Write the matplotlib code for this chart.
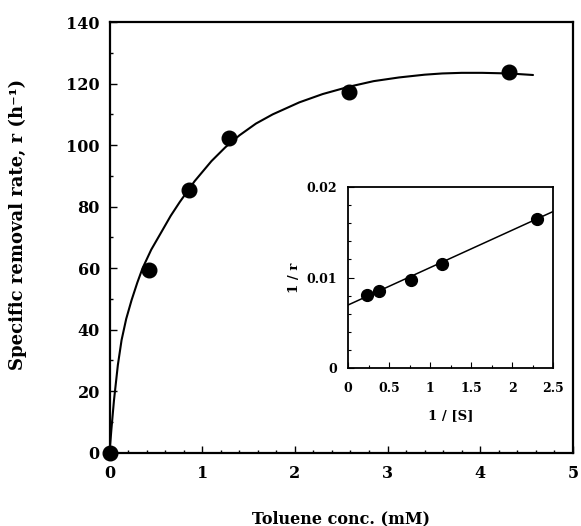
import matplotlib
matplotlib.use("Agg")
import matplotlib.pyplot as plt
from matplotlib.ticker import MultipleLocator

plt.rcParams['font.family'] = ['DejaVu Serif']
plt.rcParams['font.weight'] = 'bold'

# Main data (Toluene conc. vs specific removal rate)
conc = [0.0, 0.425, 0.855, 1.29, 2.586, 4.31]
rate = [0.0, 59.4, 85.3, 102.4, 117.4, 123.8]

# Fitted curve
curve_x = [0.0, 0.02, 0.048, 0.09, 0.13, 0.18, 0.238, 0.30, 0.357, 0.45, 0.561, 0.66, 0.758,
           0.919, 1.10, 1.25, 1.403, 1.58, 1.761, 2.048, 2.30, 2.586, 2.85, 3.124, 3.40,
           3.59, 3.80, 4.02, 4.31, 4.57]
curve_y = [0.0, 7.5, 17.0, 28.5, 36.6, 43.5, 49.6, 55.3, 60.0, 66.0, 71.8, 77.0, 81.5,
           88.3, 94.8, 99.3, 103.2, 107.0, 110.0, 113.9, 116.6, 119.0, 120.8, 122.0, 122.9,
           123.3, 123.5, 123.5, 123.3, 122.8]

# Inset: Lineweaver-Burk plot
inv_s = [0.228, 0.378, 0.764, 1.146, 2.305]
inv_r = [0.00804, 0.00848, 0.00972, 0.01152, 0.01648]
lb_line_x = [0.0, 2.5]
lb_line_y = [0.00697, 0.01727]

main_xticks = [0, 1, 2, 3, 4, 5]
main_yticks = [0, 20, 40, 60, 80, 100, 120, 140]
inset_xticks = [0, 0.5, 1, 1.5, 2, 2.5]
inset_xticklabels = ['0', '0.5', '1', '1.5', '2', '2.5']
inset_yticks = [0, 0.01, 0.02]
inset_yticklabels = ['0', '0.01', '0.02']

fig = plt.figure(figsize=(5.81, 5.26), dpi=100)
ax = fig.add_axes([0.1885, 0.1394, 0.7975, 0.8186])

ax.plot(curve_x, curve_y, color='black', lw=1.5, solid_capstyle='round', solid_joinstyle='round')
ax.plot(conc, rate, 'o', color='black', ms=10.5, clip_on=False, zorder=5)

ax.set_xlim(0, 5)
ax.set_ylim(0, 140)
ax.set_xticks(main_xticks)
ax.set_yticks(main_yticks)
ax.xaxis.set_minor_locator(MultipleLocator(0.2))
ax.yaxis.set_minor_locator(MultipleLocator(10))
ax.tick_params(which='both', direction='in', top=False, right=False, labelsize=11.5, width=1.0)
ax.tick_params(which='major', length=5)
ax.tick_params(axis='x', which='major', pad=9)
ax.tick_params(axis='y', which='major', pad=7)
ax.tick_params(which='minor', length=2.5)
for s in ax.spines.values():
    s.set_linewidth(1.6)

ax.set_xlabel('Toluene conc. (mM)', fontsize=11.5, fontweight='bold')
ax.xaxis.set_label_coords(0.5, -0.133)
ax.set_ylabel('Specific removal rate, r (h\u207b\u00b9)', fontsize=13, fontweight='bold')
ax.yaxis.set_label_coords(-0.178, 0.53)

# Inset
ins = fig.add_axes([0.599, 0.2998, 0.353, 0.3452])
ins.plot(lb_line_x, lb_line_y, color='black', lw=1.1)
ins.plot(inv_s, inv_r, 'o', color='black', ms=8.5, zorder=5)
ins.set_xlim(0, 2.5)
ins.set_ylim(0, 0.02)
ins.set_xticks(inset_xticks)
ins.set_xticklabels(inset_xticklabels)
ins.set_yticks(inset_yticks)
ins.set_yticklabels(inset_yticklabels)
ins.xaxis.set_minor_locator(MultipleLocator(0.25))
ins.yaxis.set_minor_locator(MultipleLocator(0.002))
ins.tick_params(which='both', direction='in', top=False, right=False, labelsize=9, width=0.8)
ins.tick_params(which='major', length=4)
ins.tick_params(axis='x', which='major', pad=10)
ins.tick_params(axis='y', which='major', pad=8)
ins.tick_params(which='minor', length=2)
for s in ins.spines.values():
    s.set_linewidth(1.3)
ins.set_xlabel('1 / [S]', fontsize=9.5, fontweight='bold', labelpad=10)
ins.set_ylabel('1 / r', fontsize=9.5, fontweight='bold', labelpad=4)

fig.savefig('out.png', dpi=100)
